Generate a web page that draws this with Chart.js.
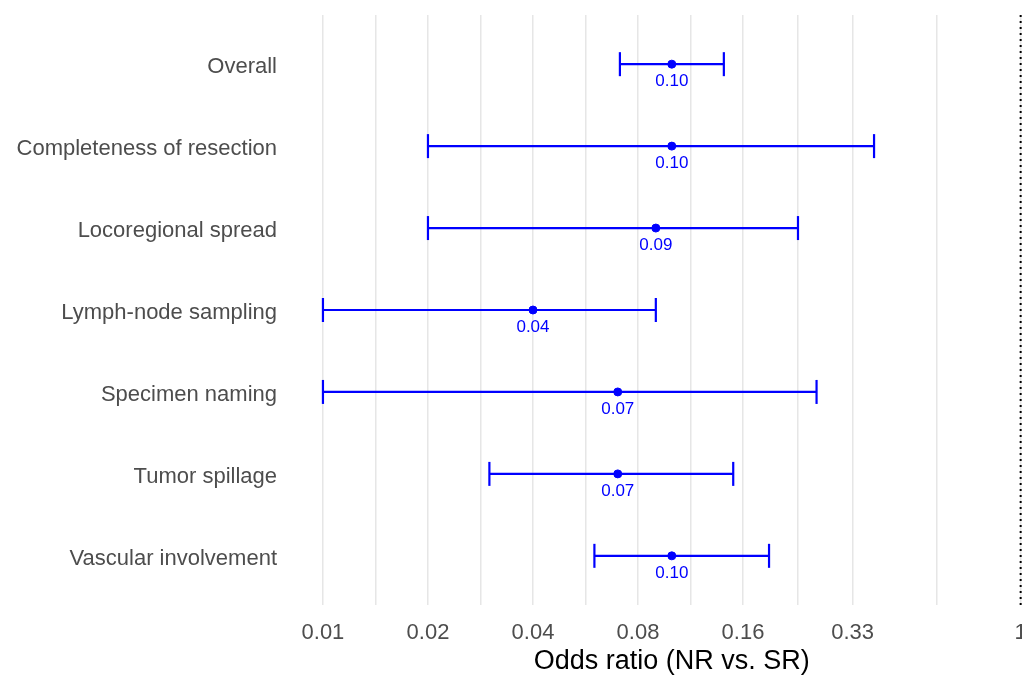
<!DOCTYPE html>
<html lang="en">
<head>
    <meta charset="UTF-8">
    <title>Odds ratio forest plot</title>
    <script src="https://cdn.jsdelivr.net/npm/chart.js"></script>
    <style>
        html, body { margin: 0; padding: 0; background: #ffffff; overflow: hidden; }
        #wrap { width: 1022px; height: 675px; }
        canvas { display: block; }
    </style>
</head>
<body>
    <div id="wrap"><canvas id="forestChart" width="1022" height="675"></canvas></div>

    <script>
        // data
        const categories = ['Overall', 'Completeness of resection', 'Locoregional spread',
            'Lymph-node sampling', 'Specimen naming', 'Tumor spillage', 'Vascular involvement'];
        const estimates = [0.10, 0.10, 0.09, 0.04, 0.07, 0.07, 0.10];
        const lowerCI = [0.071, 0.02, 0.02, 0.01, 0.01, 0.030, 0.060];
        const upperCI = [0.141, 0.38, 0.23, 0.09, 0.26, 0.150, 0.190];
        const majorTicks = [0.01, 0.02, 0.04, 0.08, 0.16, 0.33, 1];
        const tickLabels = ['0.01', '0.02', '0.04', '0.08', '0.16', '0.33', '1'];
        const minorTicks = [0.01414, 0.02828, 0.05657, 0.1131, 0.2297, 0.5745];
        const xMin = 0.00794, xMax = 1.009;
        // the original panel runs past the cropped right edge; title is centred on it
        const panelRight = 1.26;
        const xTitle = 'Odds ratio (NR vs. SR)';

        const blue = '#0000ff';
        const fontFamily = '"Liberation Sans", Arial, sans-serif';

        const datasets = [];
        categories.forEach((c, i) => {
            datasets.push({
                type: 'line',
                data: [{ x: lowerCI[i], y: i + 1 }, { x: upperCI[i], y: i + 1 }],
                borderColor: blue,
                borderWidth: 2.2,
                pointStyle: 'line',
                rotation: 90,
                pointRadius: 12,
                pointBorderWidth: 2.2,
                pointBorderColor: blue,
                pointHoverRadius: 12
            });
        });
        datasets.push({
            type: 'scatter',
            data: estimates.map((v, i) => ({ x: v, y: i + 1 })),
            backgroundColor: blue,
            borderColor: blue,
            pointRadius: 4,
            pointHoverRadius: 4
        });
        // reference line at OR = 1
        datasets.push({
            type: 'line',
            data: [{ x: 1, y: 0.4 }, { x: 1, y: 7.6 }],
            borderColor: '#000000',
            borderWidth: 2,
            borderDash: [2, 4],
            pointRadius: 0
        });

        const estimateLabels = {
            id: 'estimateLabels',
            afterDatasetsDraw(chart) {
                const ctx = chart.ctx;
                const xs = chart.scales.x, ys = chart.scales.y;
                ctx.save();
                ctx.fillStyle = blue;
                ctx.font = '17px ' + fontFamily;
                ctx.textAlign = 'center';
                ctx.textBaseline = 'middle';
                estimates.forEach((v, i) => {
                    ctx.fillText(v.toFixed(2), xs.getPixelForValue(v), ys.getPixelForValue(i + 1) + 17);
                });
                // axis title, centred on the full (uncropped) panel
                const cx = (chart.chartArea.left + xs.getPixelForValue(panelRight)) / 2;
                ctx.fillStyle = '#000000';
                ctx.font = '27px ' + fontFamily;
                ctx.fillText(xTitle, cx, xs.bottom - 13.5);
                ctx.restore();
            }
        };

        new Chart(document.getElementById('forestChart'), {
            data: { datasets: datasets },
            options: {
                responsive: false,
                animation: false,
                layout: { autoPadding: false, padding: { top: 15, right: 0, left: 0, bottom: 0 } },
                plugins: {
                    legend: { display: false },
                    tooltip: { enabled: false }
                },
                scales: {
                    x: {
                        type: 'logarithmic',
                        min: xMin,
                        max: xMax,
                        afterBuildTicks: (axis) => {
                            // empty end ticks keep the "1" label from adding right padding
                            axis.ticks = [xMin].concat(majorTicks, minorTicks, [xMax])
                                .sort((a, b) => a - b)
                                .map(v => ({ value: v }));
                        },
                        ticks: {
                            autoSkip: false,
                            maxRotation: 0,
                            padding: 0,
                            color: '#4d4d4d',
                            font: { size: 22, family: fontFamily, lineHeight: 1 },
                            callback: (v) => {
                                const k = majorTicks.indexOf(v);
                                return k >= 0 ? tickLabels[k] : '';
                            }
                        },
                        grid: {
                            color: (c) => (c.tick && (c.tick.value === xMin || c.tick.value === xMax))
                                ? 'rgba(0,0,0,0)' : '#e6e6e6',
                            lineWidth: 1.5,
                            drawTicks: true,
                            tickLength: 17,
                            tickColor: 'rgba(0,0,0,0)'
                        },
                        border: { display: false },
                        title: {
                            // reserves the space; the text itself is drawn by estimateLabels
                            display: true,
                            text: xTitle,
                            color: 'rgba(0,0,0,0)',
                            font: { size: 27, family: fontFamily, lineHeight: 1 },
                            padding: { top: 4, bottom: 0 }
                        }
                    },
                    y: {
                        type: 'linear',
                        reverse: true,
                        min: 0.4,
                        max: 7.6,
                        afterBuildTicks: (axis) => {
                            axis.ticks = categories.map((c, i) => ({ value: i + 1 }));
                        },
                        afterFit: (axis) => {
                            axis.width = 288;
                            axis.paddingTop = 0;
                            axis.paddingBottom = 0;
                        },
                        ticks: {
                            padding: 11,
                            labelOffset: 3,
                            color: '#4d4d4d',
                            font: { size: 22, family: fontFamily },
                            callback: (v) => categories[v - 1] || ''
                        },
                        grid: { display: false, drawTicks: false },
                        border: { display: false }
                    }
                }
            },
            plugins: [estimateLabels]
        });
    </script>
</body>
</html>
